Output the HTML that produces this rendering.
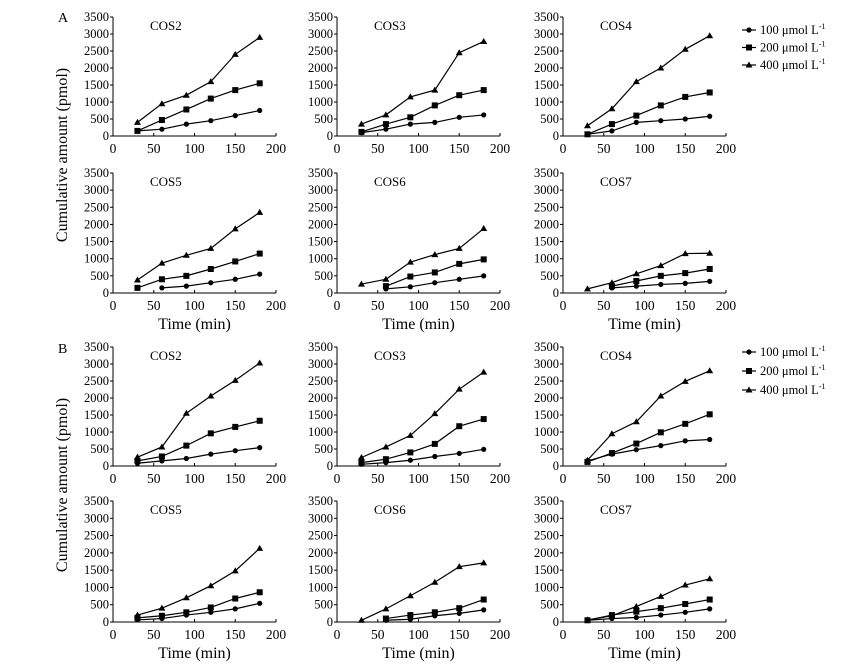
<!DOCTYPE html>
<html><head><meta charset="utf-8"><style>
html,body{margin:0;padding:0;background:#fff;}
svg{display:block;font-family:"Liberation Serif",serif;}
</style></head><body>
<svg id="fig" width="854" height="665" viewBox="0 0 854 665" xmlns="http://www.w3.org/2000/svg">
<text x="58" y="22" font-size="14">A</text>
<text x="58" y="353" font-size="14">B</text>
<text transform="translate(67,155) rotate(-90)" text-anchor="middle" font-size="16">Cumulative amount (pmol)</text>
<text transform="translate(67,485) rotate(-90)" text-anchor="middle" font-size="16">Cumulative amount (pmol)</text>
</svg>
<script>
const times=[30,60,90,120,150,180];
const xTicks=[0,50,100,150,200];
const yTicks=[0,500,1000,1500,2000,2500,3000,3500];
const seriesNames=["100 μmol L","200 μmol L","400 μmol L"];
const titles=["COS2","COS3","COS4","COS5","COS6","COS7"];
// A group
const a2_100=[150,200,350,450,600,750], a2_200=[150,470,780,1100,1350,1550], a2_400=[400,950,1200,1600,2400,2900];
const a3_100=[100,200,350,400,550,620], a3_200=[120,350,550,900,1200,1350], a3_400=[350,620,1150,1350,2450,2780];
const a4_100=[50,150,400,450,500,580], a4_200=[50,350,600,900,1150,1280], a4_400=[300,800,1600,2000,2550,2950];
const a5_100=[null,150,200,300,400,550], a5_200=[150,400,500,700,920,1150], a5_400=[380,870,1100,1300,1870,2350];
const a6_100=[null,120,180,300,400,500], a6_200=[null,200,480,600,850,980], a6_400=[260,400,900,1120,1300,1880];
const a7_100=[null,150,200,250,280,340], a7_200=[null,200,350,500,580,700], a7_400=[120,300,560,800,1150,1160];
// B group
const b2_100=[80,150,220,350,450,540], b2_200=[150,280,600,960,1150,1330], b2_400=[260,560,1550,2060,2520,3030];
const b3_100=[50,100,170,280,370,490], b3_200=[100,200,400,650,1170,1380], b3_400=[250,560,900,1540,2260,2760];
const b4_100=[150,350,480,600,740,780], b4_200=[120,380,660,990,1240,1520], b4_400=[170,950,1300,2060,2490,2800];
const b5_100=[60,100,200,280,380,540], b5_200=[120,180,280,420,680,860], b5_400=[200,400,700,1050,1480,2130];
const b6_100=[null,50,80,180,250,350], b6_200=[null,100,200,280,400,650], b6_400=[50,380,760,1150,1600,1710];
const b7_100=[50,100,130,200,280,380], b7_200=[50,200,300,400,520,650], b7_400=[60,180,450,740,1070,1250];
const groupA=[[a2_100,a2_200,a2_400],[a3_100,a3_200,a3_400],[a4_100,a4_200,a4_400],[a5_100,a5_200,a5_400],[a6_100,a6_200,a6_400],[a7_100,a7_200,a7_400]];
const groupB=[[b2_100,b2_200,b2_400],[b3_100,b3_200,b3_400],[b4_100,b4_200,b4_400],[b5_100,b5_200,b5_400],[b6_100,b6_200,b6_400],[b7_100,b7_200,b7_400]];

const NS="http://www.w3.org/2000/svg";
const svg=document.getElementById('fig');
function mk(tag,attrs,parent){const e=document.createElementNS(NS,tag);for(const k in attrs)e.setAttribute(k,attrs[k]);(parent||svg).appendChild(e);return e;}
const colX=[113,337,563];
const W=163;
const rows=[[17,136],[173,293],[347,466],[501,622]];

function marker(g,type,x,y){
  let m;
  if(type===0) m=mk('circle',{cx:x,cy:y,r:2.6,fill:'#000'},g);
  else if(type===1) m=mk('rect',{x:x-3,y:y-3,width:6,height:6,fill:'#000'},g);
  else m=mk('polygon',{points:`${x},${y-3.5} ${x-3.5},${y+2.5} ${x+3.5},${y+2.5}`,fill:'#000'},g);
  return m;
}

function panel(data,title,ci,ri,grp,showX){
  const x0=colX[ci], yT=rows[ri][0], yB=rows[ri][1];
  const sx=v=>x0+v/200*W;
  const sy=v=>yB-v/3500*(yB-yT);
  const g=mk('g',{});
  
  
  const ax=mk('line',{x1:x0,y1:yB,x2:x0+W,y2:yB,stroke:'#000','stroke-width':1},g);
  
  
  const ay=mk('line',{x1:x0,y1:yB,x2:x0,y2:yT,stroke:'#000','stroke-width':1},g);
  
  
  yTicks.forEach(t=>{
    mk('line',{x1:x0-3,y1:sy(t),x2:x0,y2:sy(t),stroke:'#000'},g);
    const tx=mk('text',{x:x0-4,y:sy(t)+4,'font-size':12.5,'text-anchor':'end'},g);
    tx.textContent=t;
    
    
  });
  xTicks.forEach(t=>{
    mk('line',{x1:sx(t),y1:yB,x2:sx(t),y2:yB-3,stroke:'#000'},g);
    const tx=mk('text',{x:sx(t),y:yB+17,'font-size':13.5,'text-anchor':'middle'},g);
    tx.textContent=t;
    
    
  });
  const tt=mk('text',{x:x0+37,y:yT+13,'font-size':13},g);
  tt.textContent=title;
  
  
  data.forEach((s,si)=>{
    const pts=[];
    s.forEach((v,i)=>{if(v!==null)pts.push([sx(times[i]),sy(v)]);});
    const pl=mk('polyline',{points:pts.map(p=>p.join(',')).join(' '),fill:'none',stroke:'#000','stroke-width':1.2},g);
    
    
    pts.forEach(p=>{
      const m=marker(g,si,p[0],p[1]);
      
      
    });
  });
  if(showX){
    const xl=mk('text',{x:x0+W/2,y:yB+36,'font-size':16,'text-anchor':'middle'},g);
    xl.textContent='Time (min)';
    
    
  }
}
groupA.forEach((d,i)=>panel(d,titles[i],i%3,Math.floor(i/3),'a',i>=3));
groupB.forEach((d,i)=>panel(d,titles[i],i%3,2+Math.floor(i/3),'b',i>=3));

function legend(y0,dy,grp){
  seriesNames.forEach((n,i)=>{
    const g=mk('g',{});
    
    
    const y=y0+i*dy;
    mk('line',{x1:742,y1:y,x2:756,y2:y,stroke:'#000','stroke-width':1.2},g);
    marker(g,i,749,y);
    const t=mk('text',{x:760,y:y+4,'font-size':12.5},g);
    t.textContent=n;
    const s=mk('tspan',{dy:-5,'font-size':8},t);
    s.textContent='-1';
  });
}
legend(30,17.5,'a');
legend(352,19,'b');
</script>
</body></html>
